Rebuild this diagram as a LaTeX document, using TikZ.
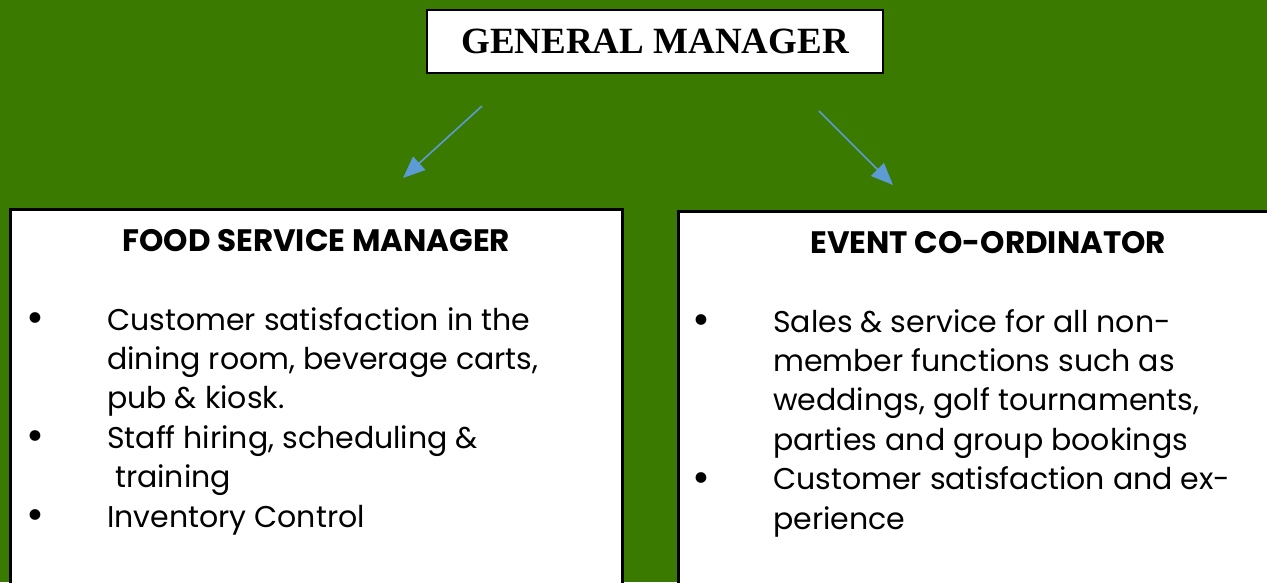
\documentclass[tikz,border=0pt]{standalone}
\usepackage{graphicx}
\usepackage{fontspec}
\setmainfont{Liberation Serif}
\newfontfamily\gothic{Poppins}
\usetikzlibrary{positioning,arrows.meta}

\definecolor{clubgreen}{RGB}{58,122,0}
\definecolor{arrowblue}{RGB}{93,155,213}

\tikzstyle{topblock} = [rectangle, draw, fill=white, line width=2pt, minimum width=456pt, minimum height=63pt, font=\fontsize{37}{40}\selectfont\bfseries]
\tikzstyle{block} = [rectangle, draw, fill=white, line width=2.5pt, anchor=north west, minimum height=420pt]
\tikzstyle{head} = [anchor=base, inner sep=0pt, font=\gothic\fontsize{31}{34}\selectfont\bfseries]
\tikzstyle{duties} = [anchor=base west, inner sep=0pt, align=left, font=\gothic\fontsize{30}{39.4}\selectfont]
\tikzstyle{line} = [draw=arrowblue, line width=1.6pt, -{Triangle[length=22pt,width=18pt]}]

% bullet hung to the left of the text
\newcommand{\bul}{\llap{\raisebox{-2.5pt}{\scalebox{1.45}{\textbullet}}\hspace{63pt}}}

\begin{document}
\begin{tikzpicture}[x=1pt, y=1pt, node distance = 2cm, auto]

  \fill[clubgreen] (0,0) rectangle (1267,-582);
  \useasboundingbox (0,0) rectangle (1267,-582);
  \clip (0,0) rectangle (1267,-582);

  \node[topblock] (gm) at (655,-41.5) {GENERAL MANAGER};
  \node[block, minimum width=612pt] (food) at (9,-208) {};
  \node[block, minimum width=620pt] (event) at (677,-210) {};

  \node[head] (foodhead) at ([yshift=-43pt]food.north) {FOOD SERVICE MANAGER};
  \node[head] (eventhead) at ([yshift=-43pt]event.north) {EVENT CO-ORDINATOR};

  % base anchor sits on the last line
  \node[duties] (foodlist) at (107,-527) {%
    \bul Customer satisfaction in the\\
    dining room, beverage carts,\\
    pub \& kiosk.\\
    \bul Staff hiring, scheduling \&\\
    \ training\\
    \bul Inventory Control};
  \node[duties] (eventlist) at (773,-529) {%
    \bul Sales \& service for all non-\\
    member functions such as\\
    weddings, golf tournaments,\\
    parties and group bookings\\
    \bul Customer satisfaction and ex-\\
    perience};

  \coordinate (gmleft) at (482,-106);
  \coordinate (foodtip) at (403,-178);
  \coordinate (gmright) at (819,-111);
  \coordinate (eventtip) at (893,-185);

  \path [line] (gmleft) -- (foodtip);
  \path [line] (gmright) -- (eventtip);

\end{tikzpicture}
\end{document}
